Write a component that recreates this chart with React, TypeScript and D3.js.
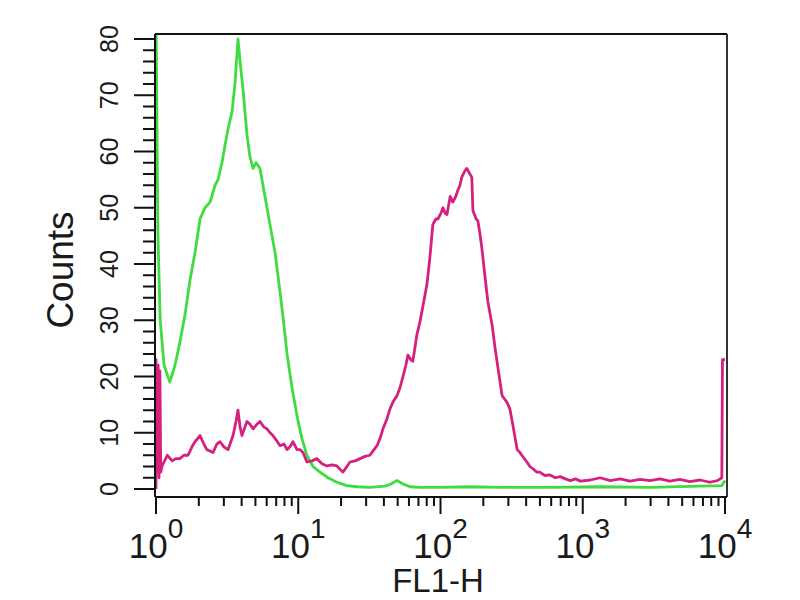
import React from "react";
import * as d3 from "d3";

// FL1-H channel values and counts
const greenX = [1.0, 1.03, 1.07, 1.14, 1.25, 1.36, 1.47, 1.6, 1.73, 1.88, 2.04, 2.21, 2.4, 2.6, 2.73, 2.91, 3.05, 3.21, 3.42, 3.59, 3.77, 3.9, 4.09, 4.36, 4.58, 4.81, 5.05, 5.38, 5.65, 6.03, 6.33, 6.87, 7.45, 7.94, 8.34, 9.04, 9.8, 10.6, 11.5, 12.7, 14.2, 16.2, 18.7, 22.0, 25.9, 31.9, 40.7, 44.2, 49.5, 54.5, 61.1, 71.8, 99, 161, 262, 589, 1322, 2970, 6670, 9500, 10000];
const greenY = [85, 46, 30, 22, 19, 22, 26, 31, 37, 42, 48, 50, 51, 54, 55, 58, 61, 64, 67, 72, 80, 76, 71, 63, 59, 57, 58, 57, 54, 50, 47, 42, 35, 29, 24, 18, 13, 9, 6, 4, 3, 2, 1.2, 0.6, 0.4, 0.3, 0.5, 0.8, 1.5, 0.9, 0.4, 0.3, 0.3, 0.4, 0.3, 0.3, 0.4, 0.3, 0.5, 0.6, 1.5];

const magentaX = [1.0, 1.0, 1.02, 1.035, 1.05, 1.065, 1.08, 1.1, 1.2, 1.3, 1.38, 1.47, 1.57, 1.68, 1.79, 1.88, 2.04, 2.17, 2.28, 2.52, 2.68, 2.82, 3.0, 3.21, 3.48, 3.65, 3.77, 3.9, 4.02, 4.22, 4.36, 4.58, 4.81, 5.12, 5.38, 5.74, 6.03, 6.33, 6.64, 7.09, 7.45, 7.94, 8.34, 8.75, 9.19, 9.8, 10.3, 10.8, 11.5, 12.5, 13.5, 14.7, 15.9, 17.3, 18.7, 20.6, 22.0, 23.1, 25.1, 27.2, 29.5, 31.9, 34.1, 35.8, 37.6, 39.4, 42.1, 44.2, 46.4, 49.5, 51.9, 54.5, 57.1, 59.0, 61.9, 63.9, 66.0, 68.1, 71.8, 75.5, 80.2, 84.1, 88.3, 92.7, 95.8, 100.6, 104, 108, 111, 117, 122, 128, 132, 137, 141, 148, 153, 161, 166, 169, 178, 183, 189, 195, 205, 215, 231, 242, 254, 271, 282, 292, 307, 323, 346, 362, 373, 405, 425, 446, 476, 498, 542, 589, 640, 694, 755, 819, 888, 964, 1135, 1322, 1560, 1830, 2150, 2530, 2970, 3490, 4100, 4820, 5670, 6670, 7830, 8850, 9500, 9600, 10000];
const magentaY = [0, 23, 3, 22, 2, 21, 3, 4, 6, 5, 5.4, 5.4, 6, 6, 7.5, 8.4, 9.5, 8, 7, 6.5, 8, 8.4, 7.5, 7, 9.5, 12, 14, 11, 9.5, 11, 12, 11.5, 10.7, 11.5, 12, 11, 10.7, 10, 9.5, 8.5, 7.7, 8, 7, 7.5, 8.4, 7, 7, 6.5, 4.8, 5, 5.4, 4.5, 4.1, 4.3, 4.1, 3, 4, 4.8, 5, 5.4, 5.8, 6, 7, 7.7, 9, 10.7, 12.5, 14.3, 15.5, 16.6, 18, 20, 22, 23.8, 23, 22.7, 25, 27.3, 29.8, 32.7, 36.3, 41, 47, 48, 48, 49, 50, 49, 48.8, 52, 51, 52, 53, 54, 55.4, 56.5, 57, 56, 55.4, 49.5, 48, 47.7, 45.5, 43, 38, 33.4, 29, 25, 21.4, 16.6, 16, 15.5, 14.3, 11.3, 7, 6.5, 6, 4.8, 4, 3.6, 3, 3, 2.4, 2.5, 2, 2.2, 1.8, 1.5, 1.8, 1.4, 1.6, 2.0, 1.5, 1.8, 1.4, 1.7, 1.5, 1.8, 1.4, 1.7, 1.3, 1.6, 1.2, 1.5, 2, 23, 23];

const xDecades = [1, 10, 100, 1000, 10000];
const xExponents = ["0", "1", "2", "3", "4"];
const yTickValues = [0, 10, 20, 30, 40, 50, 60, 70, 80];

const FONT = "'Liberation Sans', Arial, Helvetica, sans-serif";

export default function App() {
  const left = 155, right = 727, top = 34, bottom = 497;
  const x = d3.scaleLog().domain([1, 10000]).range([156, 725]);
  const y = d3.scaleLinear().domain([0, 80]).range([489, 39]);

  const greenData = greenX.map((v, i) => [v, greenY[i]] as [number, number]);
  const magentaData = magentaX.map((v, i) => [v, magentaY[i]] as [number, number]);
  const line = d3.line<[number, number]>().x((d) => x(d[0])).y((d) => y(d[1]));

  const minorX: number[] = [];
  for (let dIdx = 0; dIdx < 4; dIdx++) {
    for (let m = 2; m <= 9; m++) minorX.push(xDecades[dIdx] * m);
  }
  const yTicksAll = d3.range(0, 81, 2);

  return (
    <svg width={800} height={600} style={{ position: "absolute", left: 0, top: 0, background: "#fff" }}>
      <defs>
        <clipPath id="plot">
          <rect x={left} y={top} width={right - left} height={bottom - top} />
        </clipPath>
      </defs>
      <rect x={0} y={0} width={800} height={600} fill="#fff" />
      <g clipPath="url(#plot)">
        <path d={line(greenData) || ""} fill="none" stroke="#3fdc3f" strokeWidth={2.8} strokeLinejoin="round" />
        <path d={line(magentaData) || ""} fill="none" stroke="#d4217f" strokeWidth={2.8} strokeLinejoin="round" />
      </g>
      {/* frame */}
      <line x1={left} y1={top} x2={right} y2={top} stroke="#111" strokeWidth={2} />
      <line x1={right} y1={top} x2={right} y2={bottom} stroke="#333" strokeWidth={2} />
      <line x1={left} y1={top} x2={left} y2={bottom} stroke="#111" strokeWidth={2} />
      <line x1={left} y1={bottom} x2={right} y2={bottom} stroke="#111" strokeWidth={2} />
      {/* y ticks */}
      {yTicksAll.map((t) => (
        <line key={"yt" + t} x1={left} x2={left - (t % 10 === 0 ? 21 : 12)} y1={y(t)} y2={y(t)} stroke="#111" strokeWidth={2} />
      ))}
      {yTickValues.map((t) => (
        <text key={"yl" + t} transform={`translate(118,${y(t)}) rotate(-90)`} textAnchor="middle" fontFamily={FONT} fontSize={25} fill="#1a1a1a">
          {t}
        </text>
      ))}
      {/* x ticks */}
      {xDecades.map((v) => (
        <line key={"xM" + v} x1={x(v)} x2={x(v)} y1={bottom} y2={bottom + 17} stroke="#111" strokeWidth={2} />
      ))}
      {minorX.map((v) => (
        <line key={"xm" + v} x1={x(v)} x2={x(v)} y1={bottom} y2={bottom + 9} stroke="#111" strokeWidth={2} />
      ))}
      {xDecades.map((v, i) => (
        <text key={"xl" + v} x={x(v)} y={558} textAnchor="middle" fontFamily={FONT} fill="#1a1a1a">
          <tspan fontSize={35}>10</tspan>
          <tspan fontSize={28} dy={-20}>{xExponents[i]}</tspan>
        </text>
      ))}
      <text x={438} y={592} textAnchor="middle" fontFamily={FONT} fontSize={33} fill="#1a1a1a">FL1-H</text>
      <text transform="translate(73,270) rotate(-90)" textAnchor="middle" fontFamily={FONT} fontSize={37} fill="#1a1a1a">Counts</text>
    </svg>
  );
}
